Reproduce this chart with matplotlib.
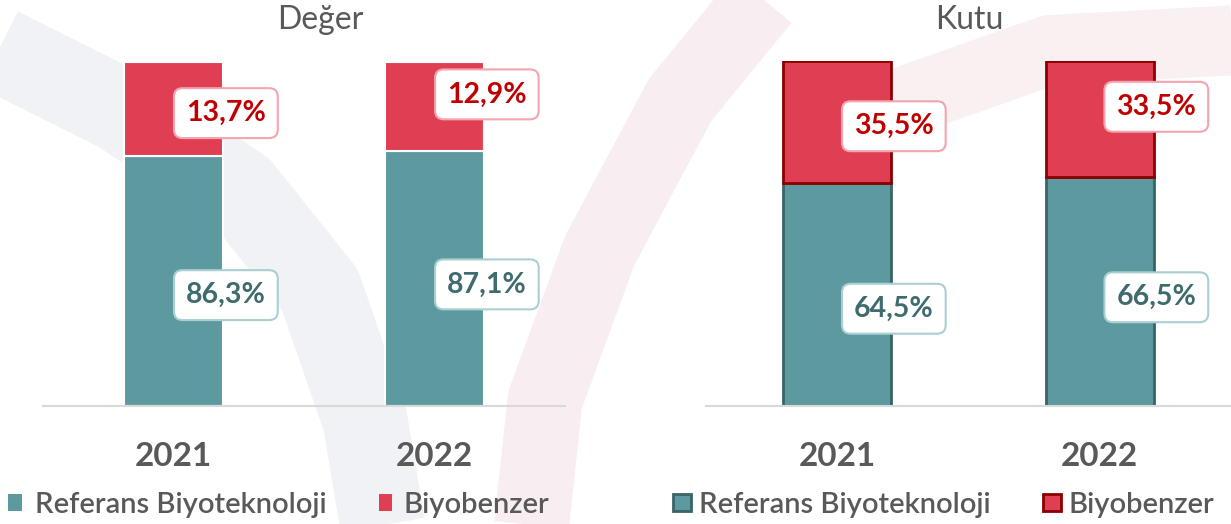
import numpy as np
import matplotlib.pyplot as plt
from matplotlib.patches import Patch

plt.rcParams["font.family"] = ["Lato", "DejaVu Sans"]

years = ["2021", "2022"]
deger_ref = [86.3, 87.1]
deger_bio = [13.7, 12.9]
kutu_ref = [64.5, 66.5]
kutu_bio = [35.5, 33.5]
legend_labels = ["Referans Biyoteknoloji", "Biyobenzer"]

TEAL = "#5c9aa0"
RED = "#e03e52"
TEAL_TXT = "#3e6b6e"
RED_TXT = "#c00000"
GREY = "#595959"

# label nudges in px (down positive), as placed by hand in the original
ref_dy = [14, 6]
bio_dy = [4, -12]

W, H = 1231, 524
fig = plt.figure(figsize=(W / 100, H / 100), dpi=100)
fig.patch.set_facecolor("white")

# faint logo watermark behind the charts
bg = fig.add_axes([0, 0, 1, 1], zorder=-5)
bg.set_xlim(0, W)
bg.set_ylim(H, 0)
bg.axis("off")
bg.plot([-20, 120, 240, 320, 365, 385], [40, 110, 190, 290, 420, 540],
        color="#f0f2f5", lw=85 * 0.72, solid_capstyle="butt")
bg.plot([530, 545, 600, 680, 770], [540, 400, 250, 100, -10],
        color="#f8eef1", lw=75 * 0.72, solid_capstyle="butt")
bg.plot([880, 1050, 1240], [110, 50, 40], color="#f9f0f2", lw=70 * 0.72, solid_capstyle="butt")


def px_axes(x0, x1, ytop, ybot):
    return fig.add_axes([x0 / W, 1 - ybot / H, (x1 - x0) / W, (ybot - ytop) / H])


def panel(ax, ref, bio, ymin, width, edges, title, title_x):
    x = np.arange(len(years))
    if edges:
        ec_ref, ec_bio, lw = "#3a6467", "#8b0000", 2.0
    else:
        ec_ref, ec_bio, lw = "white", "white", 1.5
    base = np.full(len(x), ymin)
    ref_top = np.array(ref)
    ax.bar(x, ref_top - ymin, bottom=base, width=width, color=TEAL,
           edgecolor=ec_ref, linewidth=lw, zorder=2)
    ax.bar(x, bio, bottom=ref_top, width=width, color=RED,
           edgecolor=ec_bio, linewidth=lw, zorder=2)
    ax.set_xlim(-0.5, 1.5)
    ax.set_ylim(ymin, 100)
    for s in ["top", "right", "left"]:
        ax.spines[s].set_visible(False)
    ax.spines["bottom"].set_color("#d9d9d9")
    ax.spines["bottom"].set_linewidth(1.5)
    ax.set_yticks([])
    ax.set_xticks(x)
    ax.set_xticklabels(years, fontsize=24, fontweight="bold", color=GREY)
    ax.tick_params(axis="x", length=0, pad=26)
    ax.patch.set_alpha(0)

    box_kw = dict(boxstyle="round,pad=0.42,rounding_size=0.3", facecolor="white", linewidth=1.5)
    for i in range(len(x)):
        xr = x[i] + width / 2
        ax.annotate(f"{ref[i]:.1f}%".replace(".", ","), (xr, (ymin + ref[i]) / 2),
                    xytext=(2, -ref_dy[i] * 0.72), textcoords="offset points",
                    ha="center", va="center", fontsize=20.5, fontweight="bold", color=TEAL_TXT,
                    bbox=dict(edgecolor="#a9cfd2", **box_kw), zorder=3)
        ax.annotate(f"{bio[i]:.1f}%".replace(".", ","), (xr, ref[i] + bio[i] / 2),
                    xytext=(2, -bio_dy[i] * 0.72), textcoords="offset points",
                    ha="center", va="center", fontsize=20.5, fontweight="bold", color=RED_TXT,
                    bbox=dict(edgecolor="#f3a4ae", **box_kw), zorder=3)
    fig.text(title_x / W, 1 - 20 / H, title, ha="center", va="center", fontsize=23, color=GREY)

    handles = [Patch(facecolor=TEAL, edgecolor=ec_ref if edges else "none", linewidth=2.0),
               Patch(facecolor=RED, edgecolor=ec_bio if edges else "none", linewidth=2.0)]
    return handles


ax1 = px_axes(43, 565, 62, 406)
h1 = panel(ax1, deger_ref, deger_bio, 50, 0.38, False, "Değer", 320)
ax2 = px_axes(706, 1231, 61, 406)
h2 = panel(ax2, kutu_ref, kutu_bio, 0, 0.41, True, "Kutu", 969)

leg_font = dict(size=21, weight="semibold")


def legend_entry(handle, label, x_px, hlen, gap):
    fig.legend([handle], [label], loc="center left", bbox_to_anchor=(x_px / W, 1 - 505 / H),
               frameon=False, prop=leg_font, labelcolor=GREY, handlelength=hlen,
               handleheight=0.55, handletextpad=gap, borderpad=0, borderaxespad=0)


legend_entry(h1[0], legend_labels[0], 8, 0.48, 0.45)
legend_entry(h1[1], legend_labels[1], 379, 0.45, 0.4)
legend_entry(h2[0], legend_labels[0], 673, 0.6, 0.3)
legend_entry(h2[1], legend_labels[1], 1043, 0.6, 0.28)

fig.savefig("out.png", dpi=100)
